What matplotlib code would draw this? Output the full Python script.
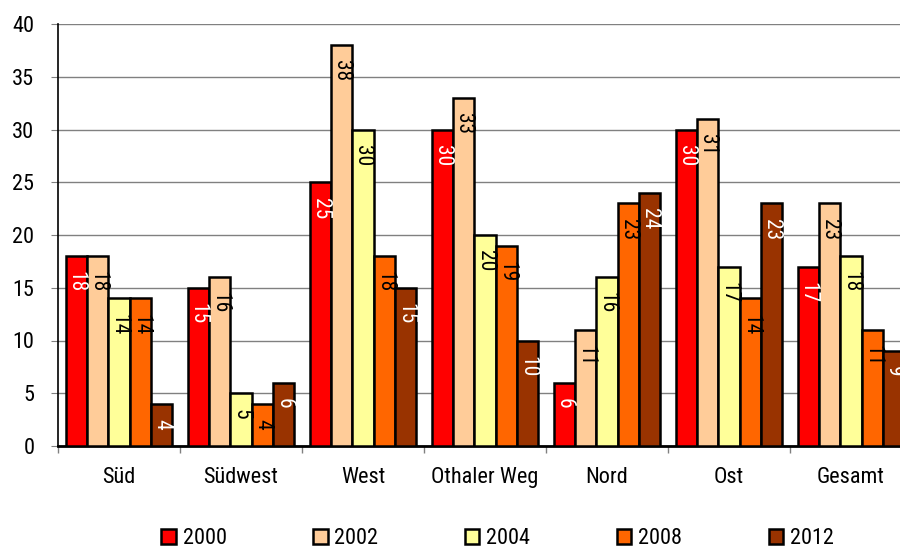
import matplotlib
matplotlib.use('Agg')
import matplotlib.pyplot as plt
from matplotlib.patches import Patch
import numpy as np

categories = ['Süd', 'Südwest', 'West', 'Othaler Weg', 'Nord', 'Ost', 'Gesamt']
years = ['2000', '2002', '2004', '2008', '2012']
v2000 = [18, 15, 25, 30, 6, 30, 17]
v2002 = [18, 16, 38, 33, 11, 31, 23]
v2004 = [14, 5, 30, 20, 16, 17, 18]
v2008 = [14, 4, 18, 19, 23, 14, 11]
v2012 = [4, 6, 15, 10, 24, 23, 9]
series = [v2000, v2002, v2004, v2008, v2012]
yticks = [0, 5, 10, 15, 20, 25, 30, 35, 40]

colors = ['#FF0000', '#FFCC99', '#FFFF99', '#FF6600', '#993300']
label_colors = ['white', 'black', 'black', 'black', 'white']

plt.rcParams['font.family'] = ['Roboto Condensed', 'DejaVu Sans']

fig = plt.figure(figsize=(9, 5.48), dpi=100)
ax = fig.add_axes([58 / 900, 1 - 446 / 548, 854 / 900, 422 / 548])

n = len(years)
width = 0.175
x = np.arange(len(categories))
for i, (vals, c, lc) in enumerate(zip(series, colors, label_colors)):
    offs = (i - (n - 1) / 2) * width
    bars = ax.bar(x + offs, vals, width, color=c, edgecolor='black',
                  linewidth=1.8, label=years[i], zorder=3)
    for b, v in zip(bars, vals):
        ax.annotate(str(v), (b.get_x() + b.get_width() / 2, v),
                    xytext=(0, -11), textcoords='offset points',
                    rotation=-90, ha='center', va='top', color=lc,
                    fontsize=15.5, zorder=4)

ax.set_xlim(-0.5, len(categories) - 0.5)
ax.set_ylim(0, 40)
ax.set_yticks(yticks)
ax.tick_params(axis='y', length=5, color='#808080', pad=12, labelsize=16)

# category boundaries carry the tick marks, centres carry the labels
ax.set_xticks(np.arange(-0.5, len(categories), 1.0))
ax.set_xticklabels([])
ax.set_xticks(x, minor=True)
ax.set_xticklabels(categories, minor=True)
ax.tick_params(axis='x', which='major', length=5, color='#808080', width=1)
ax.tick_params(axis='x', which='minor', length=0, pad=15, labelsize=16)

ax.yaxis.grid(True, color='#808080', linewidth=1)
ax.set_axisbelow(True)
for s in ['top', 'right']:
    ax.spines[s].set_visible(False)
ax.spines['left'].set_linewidth(1.2)
ax.spines['bottom'].set_linewidth(2)

handles = [Patch(facecolor=c, edgecolor='black', linewidth=1.8, label=y)
           for c, y in zip(colors, years)]
fig.legend(handles=handles, ncol=5, loc='center',
           bbox_to_anchor=(497.5 / 900, 1 - 539 / 548), frameon=False,
           fontsize=16, handlelength=0.65, handleheight=0.65,
           handletextpad=0.3, columnspacing=3.9, borderpad=0,
           borderaxespad=0)

fig.savefig('out.png', dpi=100)
